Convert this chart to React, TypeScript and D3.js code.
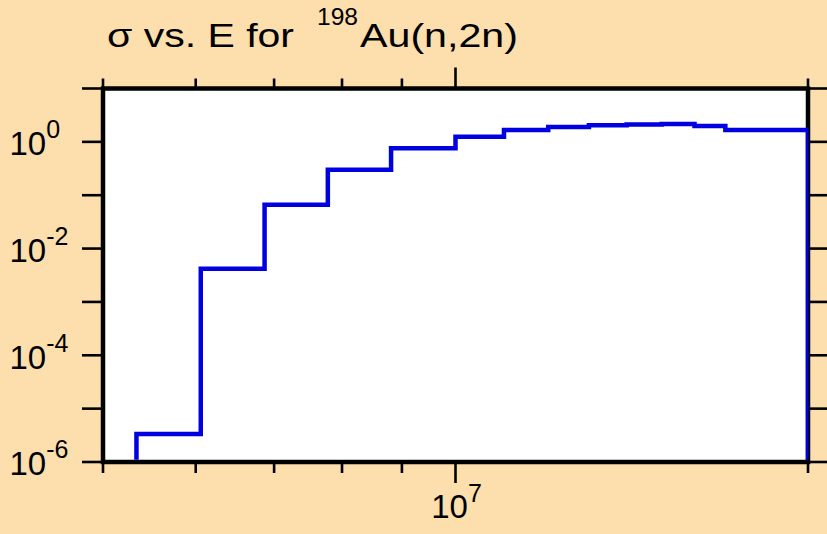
import React from "react";
import * as d3 from "d3";

// Step boundaries (eV) and cross-section values (b) per bin
const binEdges = [5.34e6, 6.06e6, 6.87e6, 7.78e6, 8.81e6, 1.0e7, 1.1e7, 1.2e7, 1.3e7, 1.4e7, 1.5e7, 1.6e7, 1.7e7, 2.0e7];
const binValues = [3.36e-6, 4.2e-3, 0.066, 0.30, 0.76, 1.25, 1.67, 1.90, 2.05, 2.12, 2.17, 1.99, 1.66];

const xDomain = [5e6, 2e7];
const yDomain = [1e-6, 1e1];
const xMinorTicks = [5e6, 6e6, 7e6, 8e6, 9e6, 2e7];
const xMajorTicks = [1e7];
const xMajorLabels = [{ base: "10", exp: "7" }];
const yTicks = [1e-6, 1e-5, 1e-4, 1e-3, 1e-2, 1e-1, 1e0, 1e1];
const yLabelTicks = [1e0, 1e-2, 1e-4, 1e-6];
const yLabelExps = ["0", "-2", "-4", "-6"];

const W = 827, H = 534;
const L = 103, R = 808, T = 88.5, B = 462;
const BG = "#FDDEAD";
const FONT = "'Liberation Sans', Arial, Helvetica, sans-serif";

export default function App() {
  const x = d3.scaleLog().domain(xDomain).range([L, R]);
  const y = d3.scaleLog().domain(yDomain).range([B, T]);

  const pts: [number, number][] = [];
  pts.push([binEdges[0], yDomain[0]]);
  binValues.forEach((v, i) => pts.push([binEdges[i], v]));
  pts.push([binEdges[binEdges.length - 1], binValues[binValues.length - 1]]);
  pts.push([binEdges[binEdges.length - 1], yDomain[0]]);

  const line = d3
    .line<[number, number]>()
    .x((d) => x(d[0]))
    .y((d) => y(d[1]))
    .curve(d3.curveStepAfter);

  return (
    <div style={{ position: "absolute", left: 0, top: 0 }}>
      <svg width={W} height={H} style={{ display: "block" }} fontFamily={FONT}>
        <defs>
          <clipPath id="plotClip">
            <rect x={L} y={T} width={R - L + 0.5} height={B - T - 2.2} />
          </clipPath>
        </defs>
        <rect x={0} y={0} width={W} height={H} fill={BG} />
        {/* title */}
        <text x={107} y={46.5} fontSize={33} textLength={187} lengthAdjust="spacingAndGlyphs" fill="#000">
          σ vs. E for
        </text>
        <text x={317} y={25} fontSize={24} textLength={41} lengthAdjust="spacingAndGlyphs" fill="#000">
          198
        </text>
        <text x={360} y={46.5} fontSize={33} textLength={158} lengthAdjust="spacingAndGlyphs" fill="#000">
          Au(n,2n)
        </text>

        <rect x={L} y={T} width={R - L} height={B - T} fill="#fff" />

        {/* y ticks left and right */}
        {yTicks.map((t, i) => (
          <g key={"yt" + i} stroke="#000" strokeWidth={2.6}>
            <line x1={L - 21} x2={L} y1={y(t)} y2={y(t)} />
            <line x1={R} x2={R + 20} y1={y(t)} y2={y(t)} />
          </g>
        ))}
        {/* x ticks top and bottom */}
        {xMinorTicks.map((t, i) => (
          <g key={"xm" + i} stroke="#000" strokeWidth={2.6}>
            <line x1={x(t)} x2={x(t)} y1={T - 10} y2={T} />
            <line x1={x(t)} x2={x(t)} y1={B} y2={B + 11} />
          </g>
        ))}
        {xMajorTicks.map((t, i) => (
          <g key={"xM" + i} stroke="#000" strokeWidth={2.6}>
            <line x1={x(t)} x2={x(t)} y1={T - 21} y2={T} />
            <line x1={x(t)} x2={x(t)} y1={B} y2={B + 21} />
          </g>
        ))}

        {/* y labels */}
        {yLabelTicks.map((t, i) => (
          <text key={"yl" + i} x={9.5} y={y(t) + 13.3} fontSize={33} fill="#000">
            10
            <tspan fontSize={25} dy={-17}>
              {yLabelExps[i]}
            </tspan>
          </text>
        ))}
        {/* x labels */}
        {xMajorTicks.map((t, i) => (
          <text key={"xl" + i} x={x(t) + 1} y={517.5} fontSize={33} textAnchor="middle" fill="#000">
            {xMajorLabels[i].base}
            <tspan fontSize={25} dy={-16}>
              {xMajorLabels[i].exp}
            </tspan>
          </text>
        ))}

        {/* frame */}
        <rect x={L} y={T} width={R - L} height={B - T} fill="none" stroke="#000" strokeWidth={4.5} />

        {/* data */}
        <path
          d={line(pts) || ""}
          fill="none"
          stroke="#0000E0"
          strokeWidth={4.5}
          strokeLinejoin="miter"
          clipPath="url(#plotClip)"
        />
      </svg>
    </div>
  );
}
